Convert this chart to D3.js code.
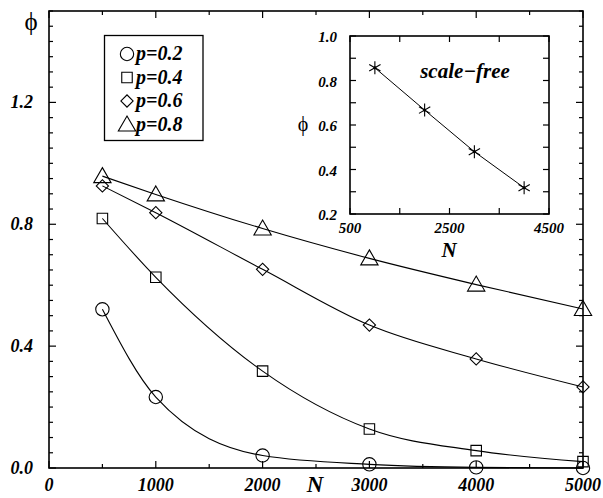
<!DOCTYPE html>
<html>
<head>
<meta charset="utf-8">
<script src="https://cdn.jsdelivr.net/npm/d3@7"></script>
<style>
  body { margin: 0; background: #fff; }
</style>
</head>
<body>
<div id="chart"></div>
<script>
// main panel data
const sizes = [500, 1000, 2000, 3000, 4000, 5000];
const probs = ["0.2", "0.4", "0.6", "0.8"];
const phiP02 = [0.521, 0.233, 0.041, 0.012, 0.002, 0.0];
const phiP04 = [0.819, 0.626, 0.318, 0.128, 0.057, 0.021];
const phiP06 = [0.926, 0.838, 0.652, 0.469, 0.358, 0.266];
const phiP08 = [0.958, 0.898, 0.786, 0.688, 0.602, 0.522];
const xTicks = [0, 1000, 2000, 3000, 4000, 5000];
const yTicks = [0.0, 0.4, 0.8, 1.2];

// inset data (scale-free)
const sfSizes = [1000, 2000, 3000, 4000];
const sfPhi = [0.857, 0.667, 0.48, 0.318];
const sfXTicks = [500, 2500, 4500];
const sfYTicks = [0.2, 0.4, 0.6, 0.8, 1.0];

const series = [phiP02, phiP04, phiP06, phiP08];
// diamond = square turned 45 degrees, like the original plot
const symbols = [d3.symbolCircle, d3.symbolSquare, d3.symbolSquare, d3.symbolTriangle];
const symSizes = [140, 110, 75, 130];
const symRotate = [0, 0, 45, 0];
const symShift = [0, 0, 0, 1.5];

const serif = '"Liberation Serif", "Times New Roman", Times, "DejaVu Serif", serif';

const width = 603, height = 498;
const svg = d3.select("#chart").append("svg")
    .attr("width", width)
    .attr("height", height)
    .attr("font-family", serif);

const frame = { left: 49, right: 583, top: 11, bottom: 468 };
const x = d3.scaleLinear().domain([0, 5000]).range([frame.left, frame.right]);
const y = d3.scaleLinear().domain([0, 1.5]).range([frame.bottom, frame.top]);

function boldItalic(sel, size) {
    return sel.attr("font-family", serif)
        .attr("font-size", size)
        .attr("font-weight", "bold")
        .attr("font-style", "italic");
}

// frame with ticks on all four sides, pointing inward
function drawFrame(g, xs, ys, xMajor, xMinorStep, yMajorStep, yMinorStep, majLen, minLen) {
    const [x0, x1] = xs.range();
    const [y0, y1] = ys.range();
    g.append("rect")
        .attr("x", x0).attr("y", y1)
        .attr("width", x1 - x0).attr("height", y0 - y1)
        .attr("fill", "none").attr("stroke", "#000").attr("stroke-width", 1.6);

    const xd = xs.domain();
    d3.range(xd[0], xd[1] + 1e-9, xMinorStep).forEach(v => {
        const len = xMajor.some(m => Math.abs(m - v) < 1e-6) ? majLen : minLen;
        g.append("line").attr("x1", xs(v)).attr("x2", xs(v))
            .attr("y1", y0).attr("y2", y0 - len).attr("stroke", "#000").attr("stroke-width", 1.2);
        g.append("line").attr("x1", xs(v)).attr("x2", xs(v))
            .attr("y1", y1).attr("y2", y1 + len).attr("stroke", "#000").attr("stroke-width", 1.2);
    });
    const yd = ys.domain();
    d3.range(yd[0], yd[1] + 1e-9, yMinorStep).forEach(v => {
        const r = (v - yd[0]) / yMajorStep;
        const len = Math.abs(r - Math.round(r)) < 1e-6 ? majLen : minLen;
        g.append("line").attr("y1", ys(v)).attr("y2", ys(v))
            .attr("x1", x0).attr("x2", x0 + len).attr("stroke", "#000").attr("stroke-width", 1.2);
        g.append("line").attr("y1", ys(v)).attr("y2", ys(v))
            .attr("x1", x1).attr("x2", x1 - len).attr("stroke", "#000").attr("stroke-width", 1.2);
    });
}

const main = svg.append("g");
drawFrame(main, x, y, xTicks, 500, 0.4, 0.05, 7, 4);

boldItalic(main.selectAll(".xlab").data(xTicks).join("text"), 18)
    .attr("x", d => x(d)).attr("y", 491)
    .attr("text-anchor", "middle")
    .text(d => d);

boldItalic(main.selectAll(".ylab").data(yTicks).join("text"), 18)
    .attr("x", 33).attr("y", d => y(d) + 6)
    .attr("text-anchor", "end")
    .text(d => d.toFixed(1));

boldItalic(svg.append("text"), 23)
    .attr("x", 315).attr("y", 492)
    .attr("text-anchor", "middle")
    .text("N");

svg.append("text").attr("x", 31).attr("y", 30)
    .attr("text-anchor", "middle")
    .attr("font-size", 25)
    .attr("fill", "#000")
    .text("\u03D5");

// curves
const line = d3.line()
    .x((d, i) => x(sizes[i]))
    .y(d => y(d))
    .curve(d3.curveMonotoneX);

function marker(k) {
    return d3.symbol().type(symbols[k]).size(symSizes[k])();
}

series.forEach((vals, k) => {
    main.append("path")
        .attr("d", line(vals))
        .attr("fill", "none").attr("stroke", "#000").attr("stroke-width", 1.1);
    main.selectAll(".m" + k).data(vals).join("path")
        .attr("transform", (d, i) => `translate(${x(sizes[i])},${y(d) + symShift[k]}) rotate(${symRotate[k]})`)
        .attr("d", marker(k))
        .attr("fill", "none").attr("stroke", "#000").attr("stroke-width", 1.1);
});

// legend
const legend = svg.append("g");
legend.append("rect")
    .attr("x", 104.5).attr("y", 35.5).attr("width", 98.5).attr("height", 105)
    .attr("fill", "#fff").attr("stroke", "#000").attr("stroke-width", 1.3);
probs.forEach((p, k) => {
    const ly = 54 + k * 23.5;
    legend.append("path")
        .attr("transform", `translate(127,${ly + symShift[k]}) rotate(${symRotate[k]})`)
        .attr("d", marker(k))
        .attr("fill", "none").attr("stroke", "#000").attr("stroke-width", 1.1);
    boldItalic(legend.append("text"), 20)
        .attr("x", 136).attr("y", ly + 6)
        .text("p=" + p);
});

// inset
const ix = d3.scaleLinear().domain([500, 4500]).range([350, 549]);
const iy = d3.scaleLinear().domain([0.2, 1.0]).range([214, 36]);
const inset = svg.append("g");
drawFrame(inset, ix, iy, sfXTicks, 1000, 0.2, 0.1, 6, 6);

boldItalic(inset.selectAll(".ixl").data(sfXTicks).join("text"), 15)
    .attr("x", d => ix(d)).attr("y", 233)
    .attr("text-anchor", "middle")
    .text(d => d);
boldItalic(inset.selectAll(".iyl").data(sfYTicks).join("text"), 15)
    .attr("x", 337).attr("y", d => iy(d) + 6)
    .attr("text-anchor", "end")
    .text(d => d.toFixed(1));
boldItalic(inset.append("text"), 21)
    .attr("x", 449).attr("y", 257)
    .attr("text-anchor", "middle")
    .text("N");
inset.append("text").attr("x", 303).attr("y", 131)
    .attr("text-anchor", "middle")
    .attr("font-size", 20)
    .attr("fill", "#000")
    .text("\u03D5");
boldItalic(inset.append("text"), 21)
    .attr("x", 465).attr("y", 78)
    .attr("text-anchor", "middle")
    .text("scale\u2212free");

inset.append("path")
    .attr("d", d3.line().x((d, i) => ix(sfSizes[i])).y(d => iy(d))(sfPhi))
    .attr("fill", "none").attr("stroke", "#000").attr("stroke-width", 1);
const star = d3.symbol().type(d3.symbolAsterisk).size(120);
inset.selectAll(".star").data(sfPhi).join("path")
    .attr("transform", (d, i) => `translate(${ix(sfSizes[i])},${iy(d)})`)
    .attr("d", star)
    .attr("fill", "none").attr("stroke", "#000").attr("stroke-width", 1.1);
inset.selectAll(".dot").data(sfPhi).join("circle")
    .attr("cx", (d, i) => ix(sfSizes[i])).attr("cy", d => iy(d)).attr("r", 1.6)
    .attr("fill", "#000");
</script>
</body>
</html>
